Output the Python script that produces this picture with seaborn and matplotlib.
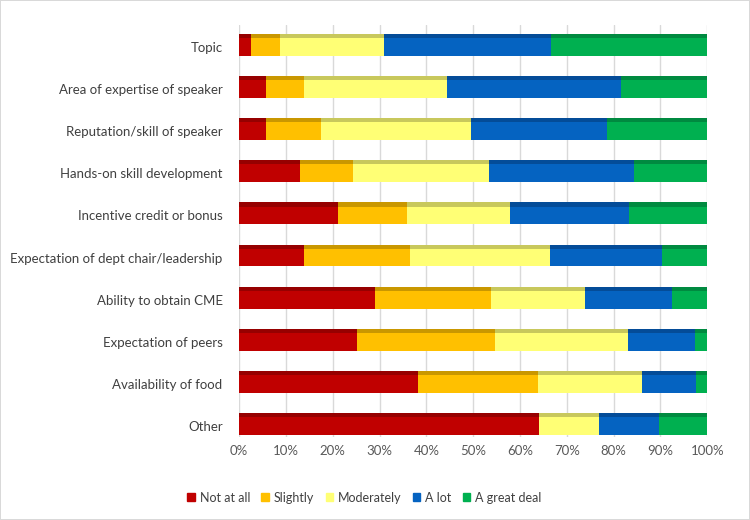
import numpy as np
import pandas as pd
import matplotlib
matplotlib.use("Agg")
import matplotlib.pyplot as plt
import seaborn as sns

# Survey items, top to bottom
ITEMS = [
    "Topic",
    "Area of expertise of speaker",
    "Reputation/skill of speaker",
    "Hands-on skill development",
    "Incentive credit or bonus",
    "Expectation of dept chair/leadership",
    "Ability to obtain CME",
    "Expectation of peers",
    "Availability of food",
    "Other",
]

LEVELS = ["Not at all", "Slightly", "Moderately", "A lot", "A great deal"]

# percent of respondents per answer level
not_at_all = [2.6, 5.7, 5.7, 13.0, 21.1, 13.9, 29.1, 25.2, 38.2, 64.0]
slightly = [6.2, 8.2, 11.7, 11.4, 14.8, 22.6, 24.7, 29.5, 25.7, 0.0]
moderately = [22.2, 30.5, 32.1, 29.0, 21.9, 30.0, 20.1, 28.3, 22.1, 12.9]
a_lot = [35.7, 37.2, 29.1, 30.9, 25.5, 23.9, 18.6, 14.3, 11.7, 12.8]
great_deal = [33.3, 18.4, 21.4, 15.7, 16.7, 9.6, 7.5, 2.7, 2.3, 10.3]

COLORS = ["#C00000", "#FFC000", "#FFFF75", "#0563C1", "#00B050"]
TOPS = ["#960000", "#C99700", "#C8C85C", "#044C98", "#008A40"]

TICKS = [0, 10, 20, 30, 40, 50, 60, 70, 80, 90, 100]

BAR_H = 0.42
TOP_H = 0.10


def main():
    sns.set_theme(style="white")
    plt.rcParams["font.family"] = ["Lato", "DejaVu Sans"]

    vals = np.array([not_at_all, slightly, moderately, a_lot, great_deal])
    vals = vals / vals.sum(axis=0) * 100
    ends = vals.cumsum(axis=0)
    starts = ends - vals

    fig = plt.figure(figsize=(7.5, 5.2), dpi=100)
    fig.patch.set_edgecolor("#d9d9d9")
    fig.patch.set_linewidth(1.2)
    ax = fig.add_axes([0.319, 0.160, 0.624, 0.792])

    # stacked bars: draw cumulative totals from the widest layer down
    for i in range(len(LEVELS) - 1, -1, -1):
        df = pd.DataFrame({"item": ITEMS, "end": ends[i]})
        sns.barplot(data=df, x="end", y="item", order=ITEMS, color=COLORS[i],
                    width=BAR_H, saturation=1, linewidth=0, ax=ax, zorder=3)

    # darker top face for the 3-D look
    ypos = np.arange(len(ITEMS))
    for i in range(len(LEVELS)):
        ax.barh(ypos - BAR_H / 2 - TOP_H / 2, vals[i], left=starts[i],
                height=TOP_H, color=TOPS[i], linewidth=0, zorder=3)

    ax.set_xlim(0, 100)
    ax.set_ylim(9.25, -0.52)
    ax.set_xticks(TICKS)
    ax.set_xticklabels([f"{t}%" for t in TICKS])
    ax.xaxis.grid(True, color="#d9d9d9", linewidth=1, zorder=0)
    ax.set_axisbelow(True)
    ax.set_xlabel("")
    ax.set_ylabel("")
    ax.tick_params(axis="both", length=0, colors="#595959", labelsize=9.5)
    ax.tick_params(axis="y", labelcolor="#404040", pad=12)
    ax.tick_params(axis="x", pad=6)
    for s in ax.spines.values():
        s.set_visible(False)

    handles = [plt.Rectangle((0, 0), 1, 1, color=c) for c in COLORS]
    fig.legend(handles, LEVELS, loc="center", bbox_to_anchor=(0.486, 0.043),
               ncol=5, frameon=False, fontsize=9, handlelength=0.6,
               handleheight=0.6, handletextpad=0.4, columnspacing=0.9,
               labelcolor="#404040")

    fig.savefig("out.png", dpi=100, facecolor="white",
                edgecolor=fig.get_edgecolor())


if __name__ == "__main__":
    main()
